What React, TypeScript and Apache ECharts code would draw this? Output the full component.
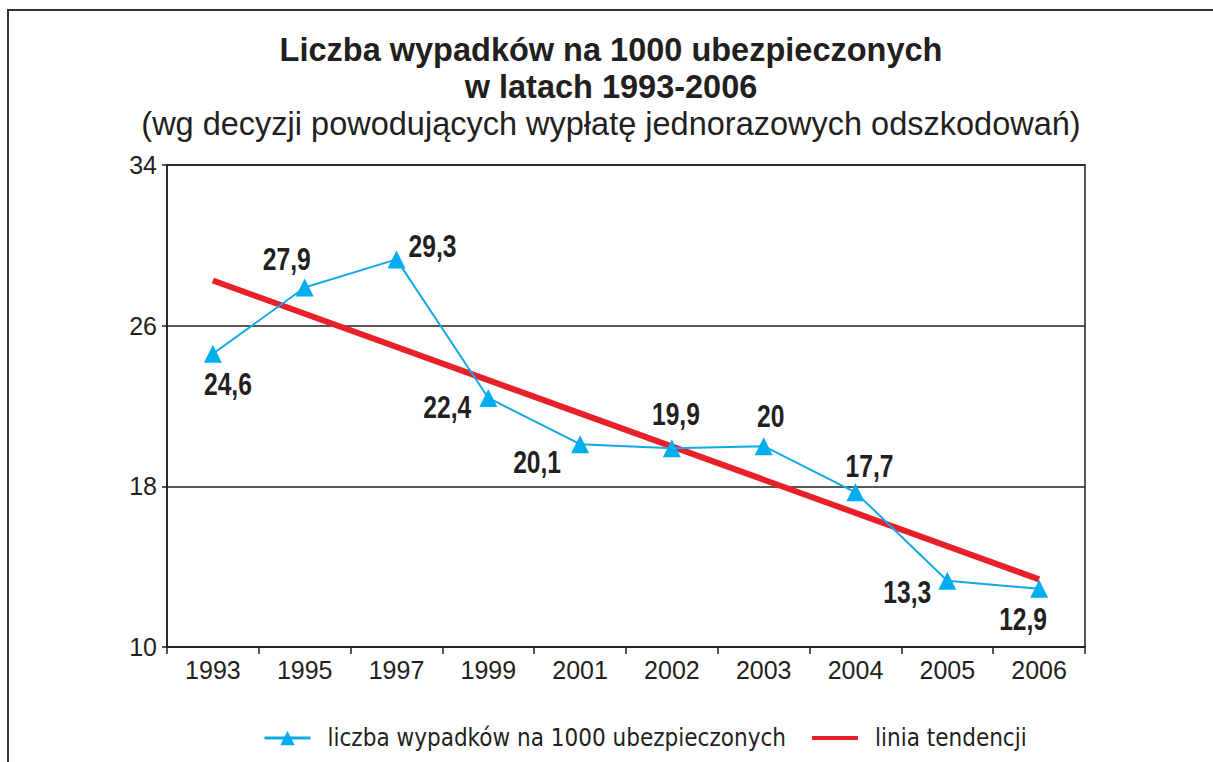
import React, { useEffect, useRef } from "react";
import * as echarts from "echarts";

const titleLine1 = "Liczba wypadków na 1000 ubezpieczonych";
const titleLine2 = "w latach 1993-2006";
const subtitle = "(wg decyzji powodujących wypłatę jednorazowych odszkodowań)";
const years = ["1993", "1995", "1997", "1999", "2001", "2002", "2003", "2004", "2005", "2006"];
const accidents = [24.6, 27.9, 29.3, 22.4, 20.1, 19.9, 20, 17.7, 13.3, 12.9];
const trendYears = ["1993", "2006"];
const trendValues = [28.25, 13.37];
const seriesName = "liczba wypadków na 1000 ubezpieczonych";
const trendName = "linia tendencji";

// label offsets relative to each point (style only)
const labelOffsets: [number, number][] = [
  [15, 30], [-18, -29], [36, -14], [-41, 9], [-43, 18],
  [4, -34], [7, -30], [14, -27], [-40, 11], [-16, 30],
];

const SANS = "'Liberation Sans', Arial, Helvetica, sans-serif";
const COND = "'DejaVu Sans Condensed', 'Liberation Sans', sans-serif";
const INK = "#231f20";

export default function App() {
  const ref = useRef<HTMLDivElement>(null);
  useEffect(() => {
    if (!ref.current) return;
    const chart = echarts.init(ref.current, null, { renderer: "svg" });
    chart.setOption({
      animation: false,
      backgroundColor: "#fff",
      graphic: [
        {
          type: "rect",
          shape: { x: 8, y: 10, width: 1220, height: 800 },
          style: { fill: "none", stroke: "#333", lineWidth: 2 },
          silent: true,
        },
        {
          type: "text",
          x: 611, y: 50,
          style: { text: titleLine1, font: `bold 32.5px ${SANS}`, fill: INK, align: "center", verticalAlign: "middle" },
        },
        {
          type: "text",
          x: 611, y: 87,
          style: { text: titleLine2, font: `bold 32.5px ${SANS}`, fill: INK, align: "center", verticalAlign: "middle" },
        },
        {
          type: "text",
          x: 611, y: 124,
          style: { text: subtitle, font: `32.5px ${SANS}`, fill: INK, align: "center", verticalAlign: "middle" },
        },
      ],
      legend: {
        bottom: 7,
        left: 258,
        itemWidth: 46,
        itemHeight: 18,
        itemGap: 24,
        textStyle: { fontFamily: COND, fontSize: 24, color: INK, padding: [0, 0, 0, 12] },
        data: [
          { name: seriesName, lineStyle: { width: 3 } },
          { name: trendName, itemStyle: { opacity: 0 }, lineStyle: { width: 4 } },
        ],
      },
      grid: {
        left: 167,
        right: 128,
        top: 165,
        bottom: 115,
        show: true,
        borderColor: INK,
        borderWidth: 1.5,
        containLabel: false,
      },
      xAxis: {
        type: "category",
        data: years,
        boundaryGap: true,
        axisLine: { lineStyle: { color: INK, width: 1.5 } },
        axisTick: { show: true, length: 7, lineStyle: { color: INK, width: 1.5 } },
        axisLabel: { fontFamily: SANS, fontSize: 25, color: INK, margin: 10 },
      },
      yAxis: {
        type: "value",
        min: 10,
        max: 34,
        interval: 8,
        axisLine: { show: true, lineStyle: { color: INK, width: 1.5 } },
        axisTick: { show: true, length: 5, lineStyle: { color: INK, width: 1.5 } },
        axisLabel: { fontFamily: SANS, fontSize: 25, color: INK, margin: 10 },
        splitLine: { show: true, lineStyle: { color: INK, width: 1.5 } },
      },
      series: [
        {
          name: trendName,
          type: "line",
          data: trendYears.map((y, i) => [y, trendValues[i]]),
          symbol: "none",
          lineStyle: { color: "#e8202a", width: 6 },
          itemStyle: { color: "#e8202a" },
          z: 2,
        },
        {
          name: seriesName,
          type: "line",
          data: accidents,
          symbol: "triangle",
          symbolSize: 18,
          lineStyle: { color: "#12a9e6", width: 2 },
          itemStyle: { color: "#00aeef" },
          z: 3,
        },
        {
          name: "labels",
          type: "custom",
          silent: true,
          z: 4,
          data: accidents.map((v, i) => [i, v]),
          renderItem: (params: any, api: any) => {
            const idx = params.dataIndex;
            const pt = api.coord([api.value(0), api.value(1)]);
            const off = labelOffsets[idx] || [0, 0];
            return {
              type: "text",
              x: pt[0] + off[0],
              y: pt[1] + off[1],
              scaleX: 0.77,
              style: {
                text: String(accidents[idx]).replace(".", ","),
                font: `bold 32px ${SANS}`,
                fill: INK,
                align: "center",
                verticalAlign: "middle",
              },
            };
          },
        },
      ],
    });
    return () => chart.dispose();
  }, []);
  return (
    <div
      ref={ref}
      style={{ position: "fixed", left: 0, top: 0, width: 1213, height: 762 }}
    />
  );
}
